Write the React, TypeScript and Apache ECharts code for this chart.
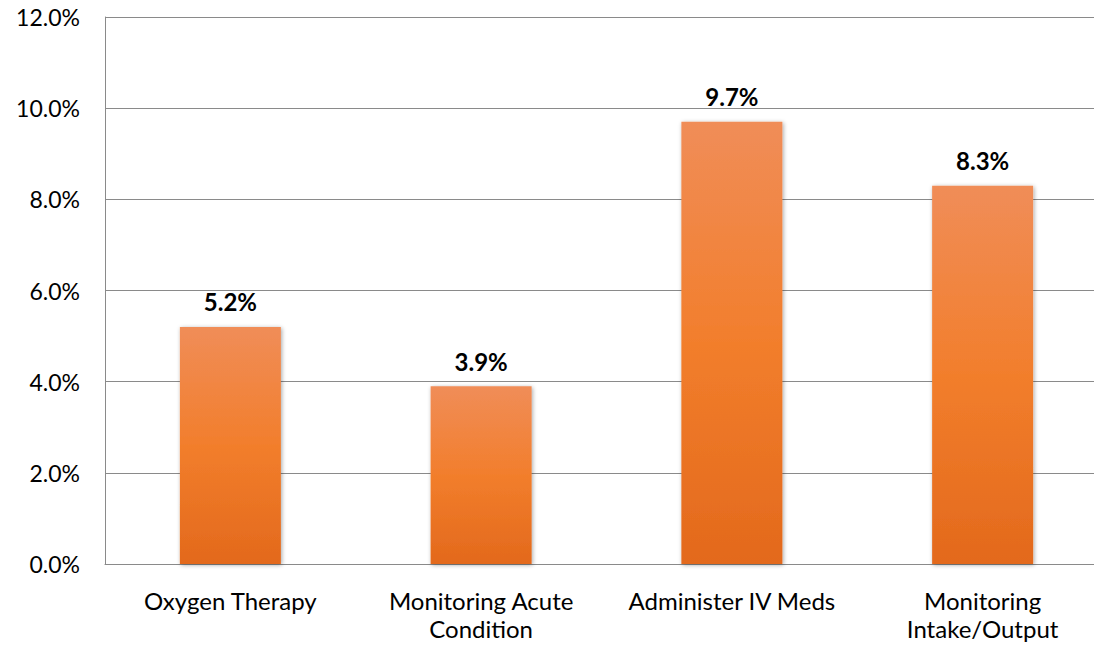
import React, { useEffect, useRef } from "react";
import * as echarts from "echarts";

const categories = ["Oxygen Therapy", "Monitoring Acute\nCondition", "Administer IV Meds", "Monitoring\nIntake/Output"];
const values = [5.2, 3.9, 9.7, 8.3];
const yTicks = { min: 0, max: 12, interval: 2 };

export default function App() {
  const ref = useRef<HTMLDivElement>(null);
  useEffect(() => {
    const chart = echarts.init(ref.current!, null, { renderer: "svg" });
    const font = "Lato, 'Open Sans', sans-serif";
    chart.setOption({
      animation: false,
      grid: { left: 105, top: 17, right: 0, bottom: 81 },
      xAxis: {
        type: "category",
        data: categories,
        axisLine: { lineStyle: { color: "#8a8a8a", width: 1 } },
        axisTick: { show: false },
        axisLabel: { interval: 0, hideOverlap: false, color: "#000", fontSize: 24, fontFamily: font, margin: 22, lineHeight: 28 },
      },
      yAxis: {
        type: "value",
        min: yTicks.min,
        max: yTicks.max,
        interval: yTicks.interval,
        axisLine: { show: true, lineStyle: { color: "#8a8a8a", width: 1 } },
        axisTick: { show: false },
        splitLine: { lineStyle: { color: "#8a8a8a", width: 1 } },
        axisLabel: {
          color: "#000",
          fontSize: 23,
          fontFamily: font,
          margin: 25,
          formatter: (v: number) => v.toFixed(1) + "%",
        },
      },
      series: [
        {
          type: "bar",
          data: values,
          barWidth: 101,
          itemStyle: {
            color: new echarts.graphic.LinearGradient(0, 0, 0, 1, [
              { offset: 0, color: "#F08D58" },
              { offset: 0.5, color: "#F27E2C" },
              { offset: 1, color: "#E3691C" },
            ]),
            shadowColor: "rgba(0,0,0,0.35)",
            shadowBlur: 4,
            shadowOffsetX: 1,
            shadowOffsetY: 1,
          },
          label: {
            show: true,
            position: "top",
            distance: 13,
            color: "#000",
            fontSize: 24,
            fontWeight: "bold",
            fontFamily: font,
            formatter: (p: any) => p.value.toFixed(1) + "%",
          },
        },
      ],
    });
    return () => chart.dispose();
  }, []);
  return (
    <div style={{ position: "fixed", left: 0, top: 0, width: 1094, height: 645, overflow: "hidden", background: "#fff" }}>
      <div ref={ref} style={{ width: 1108, height: 645 }} />
    </div>
  );
}
